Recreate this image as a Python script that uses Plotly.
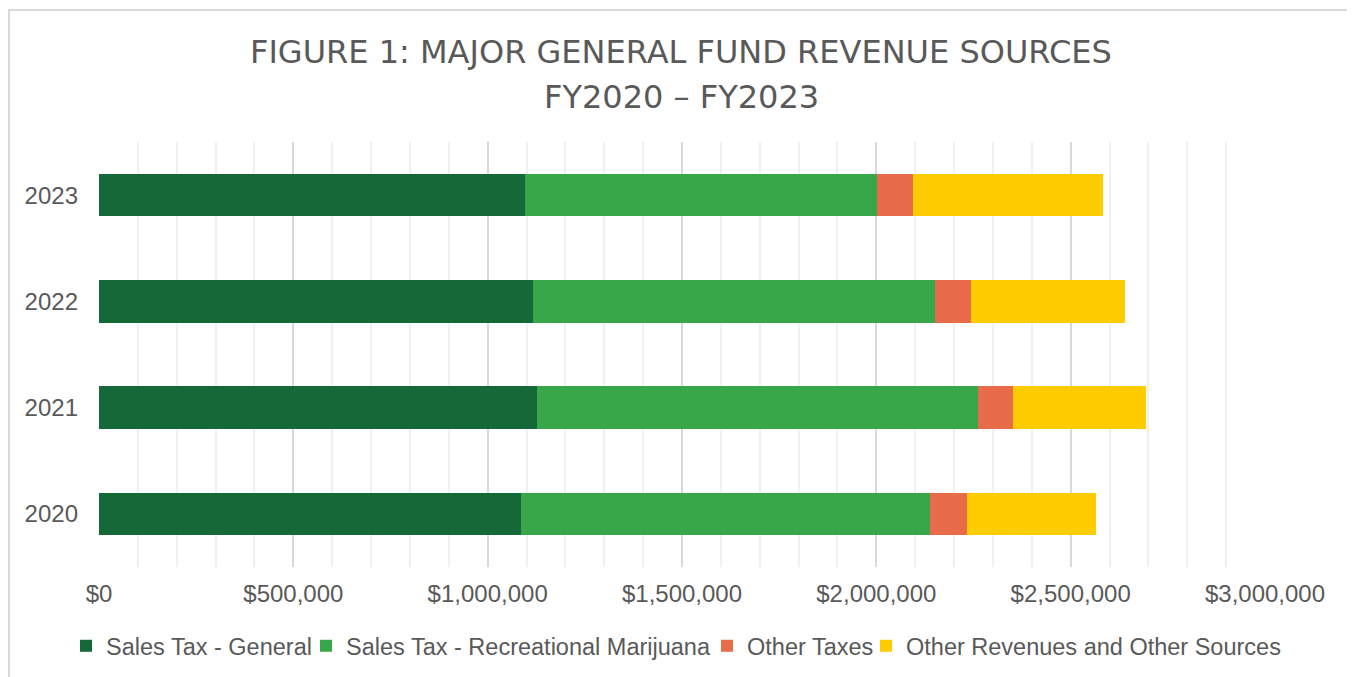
import plotly.graph_objects as go

years = ["2020", "2021", "2022", "2023"]
sales_tax_general = [1084800, 1126700, 1116400, 1095100]
sales_tax_marijuana = [1053600, 1134500, 1034900, 907600]
other_taxes = [95200, 91600, 93400, 91900]
other_revenues = [330300, 341600, 393800, 489100]

series_names = [
    "Sales Tax - General",
    "Sales Tax - Recreational Marijuana",
    "Other Taxes",
    "Other Revenues and Other Sources",
]
series_values = [sales_tax_general, sales_tax_marijuana, other_taxes, other_revenues]
series_colors = ["#156938", "#37A74A", "#E96C4A", "#FFCC00"]

tick_vals = [0, 500000, 1000000, 1500000, 2000000, 2500000, 3000000]
tick_text = ["$0", "$500,000", "$1,000,000", "$1,500,000", "$2,000,000", "$2,500,000", "$3,000,000"]

TEXT = "#595959"
FONT = "Liberation Sans, Arial, sans-serif"
TITLE_FONT = "DejaVu Sans, sans-serif"

# page offset (browser body margin)
OFF = 8
W, H = 1355, 677
L = 99 - OFF
T = 142 - OFF
R = W - (1265 - OFF)
B = H - (567 - OFF)
pw = W - L - R
ph = H - T - B


def px(xv):
    """viewport x pixel -> paper x"""
    return (xv - OFF - L) / pw


def py(yv):
    """viewport y pixel -> paper y"""
    return (H - B - (yv - OFF)) / ph


legend_ids = ["legend", "legend2", "legend3", "legend4"]
legend_text_start = [103, 343, 744, 903]

fig = go.Figure()
for name, vals, col, lid in zip(series_names, series_values, series_colors, legend_ids):
    fig.add_trace(go.Bar(
        y=years, x=vals, name=name, orientation="h",
        marker=dict(color=col, line=dict(width=0)),
        legend=lid,
    ))

legend_layouts = {}
for lid, ts in zip(legend_ids, legend_text_start):
    legend_layouts[lid] = dict(
        orientation="h", x=px(ts - 37), xanchor="left",
        y=py(646), yanchor="middle",
        font=dict(size=23.5, color=TEXT, family=FONT),
        bgcolor="rgba(0,0,0,0)", borderwidth=0,
        itemwidth=30,
    )

fig.update_layout(
    width=W, height=H,
    margin=dict(l=L, r=R, t=T, b=B, autoexpand=False),
    barmode="stack",
    bargap=0.6,
    paper_bgcolor="white",
    plot_bgcolor="white",
    font=dict(family=FONT, color=TEXT, size=24),
    showlegend=True,
    xaxis=dict(
        range=[0, 3000000],
        tickvals=tick_vals, ticktext=tick_text,
        showgrid=True, gridcolor="#D9D9D9", gridwidth=1.5,
        zeroline=False, showline=False,
        ticks="", ticklabelstandoff=10,
        minor=dict(dtick=100000, tick0=0, showgrid=True, gridcolor="#F0F0F0", gridwidth=1.5),
        tickfont=dict(size=24, color=TEXT, family=FONT),
        fixedrange=True,
    ),
    yaxis=dict(
        type="category",
        categoryorder="array", categoryarray=years,
        showgrid=False, zeroline=False, showline=False,
        ticks="", ticklabelstandoff=20,
        tickfont=dict(size=24, color=TEXT, family=FONT),
        fixedrange=True,
    ),
    **legend_layouts,
)

# Title (two lines, real text)
fig.add_annotation(
    text="FIGURE 1: MAJOR GENERAL FUND REVENUE SOURCES",
    xref="paper", yref="paper", x=px(681), y=py(52),
    showarrow=False, xanchor="center", yanchor="middle",
    font=dict(family=TITLE_FONT, size=32, color=TEXT),
)
fig.add_annotation(
    text="FY2020 – FY2023",
    xref="paper", yref="paper", x=px(681), y=py(97),
    showarrow=False, xanchor="center", yanchor="middle",
    font=dict(family=TITLE_FONT, size=32, color=TEXT),
)

# Chart frame
fig.add_shape(
    type="rect", xref="paper", yref="paper",
    x0=px(9), x1=px(1353),
    y0=py(720), y1=py(10),
    line=dict(color="#D9D9D9", width=2), fillcolor="rgba(0,0,0,0)",
    layer="below",
)

fig.write_html("out.html")
